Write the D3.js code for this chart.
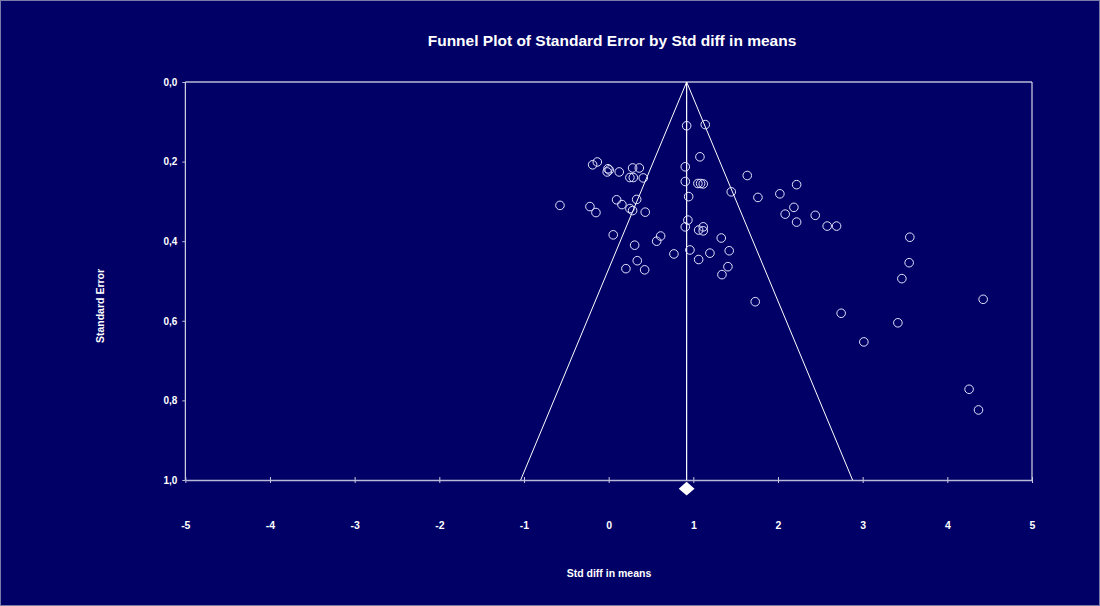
<!DOCTYPE html>
<html>
<head>
<meta charset="utf-8">
<script src="https://cdn.jsdelivr.net/npm/d3@7"></script>
<style>
  html, body { margin: 0; padding: 0; background: #000066; }
  svg { display: block; }
  text { font-family: Arial, "Liberation Sans", sans-serif; font-weight: bold; fill: #ffffff; }
</style>
</head>
<body>
<div id="chart"></div>
<script>
// study effects (Std diff in means) and their standard errors
var effects = [
  0.921, 1.141, 1.078, 0.905, -0.189, -0.134, -0.008, 0.007, -0.017, 0.125,
  0.283, 0.362, 0.251, 0.291, 0.409, 0.905, 1.054, 1.086, 1.117, 1.637,
  1.448, 0.945, 2.022, 1.763, -0.575, -0.221, -0.150, 0.094, 0.157, 0.331,
  0.251, 0.283, 0.432, 2.085, 0.936, 0.905, 1.063, 1.117, 1.117, 0.054,
  0.614, 0.567, 1.330, 0.307, 0.771, 0.960, 1.424, 1.196, 1.063, 0.338,
  0.204, 0.425, 1.409, 1.338, 1.731, 2.220, 2.188, 2.220, 2.440, 2.581,
  2.692, 3.557, 3.549, 3.463, 4.423, 2.746, 3.416, 3.014, 4.257, 4.368
];
var stdErrors = [
  0.110, 0.107, 0.188, 0.213, 0.208, 0.201, 0.218, 0.221, 0.226, 0.226,
  0.216, 0.216, 0.240, 0.240, 0.241, 0.250, 0.255, 0.255, 0.256, 0.235,
  0.276, 0.288, 0.281, 0.290, 0.310, 0.313, 0.328, 0.296, 0.308, 0.295,
  0.318, 0.323, 0.327, 0.332, 0.347, 0.364, 0.372, 0.364, 0.374, 0.384,
  0.387, 0.400, 0.392, 0.410, 0.432, 0.422, 0.424, 0.430, 0.446, 0.449,
  0.469, 0.472, 0.464, 0.484, 0.552, 0.258, 0.315, 0.352, 0.335, 0.362,
  0.362, 0.390, 0.454, 0.494, 0.546, 0.581, 0.605, 0.653, 0.772, 0.824
];
var pooledEffect = 0.921;
var xTicks = [-5, -4, -3, -2, -1, 0, 1, 2, 3, 4, 5];
var yTicks = [0, 0.2, 0.4, 0.6, 0.8, 1.0];

var width = 1100, height = 606;
var svg = d3.select("#chart").append("svg")
  .attr("width", width)
  .attr("height", height);

svg.append("rect")
  .attr("x", 0.5).attr("y", 0.5)
  .attr("width", width - 1).attr("height", height - 1)
  .attr("fill", "#000066")
  .attr("stroke", "#7a7aa8");

var x = d3.scaleLinear().domain([-5, 5]).range([185.3, 1032]);
var y = d3.scaleLinear().domain([0, 1]).range([82, 480]);

// title
svg.append("text")
  .attr("x", 612).attr("y", 46)
  .attr("text-anchor", "middle")
  .style("font-size", "15.5px")
  .text("Funnel Plot of Standard Error by Std diff in means");

// frame
svg.append("line")
  .attr("x1", x(-5)).attr("x2", x(5)).attr("y1", y(0)).attr("y2", y(0))
  .attr("stroke", "#b8b8d8").attr("stroke-width", 1.5);
svg.append("line")
  .attr("x1", x(-5)).attr("x2", x(-5)).attr("y1", y(0)).attr("y2", y(1))
  .attr("stroke", "#ffffff");
svg.append("line")
  .attr("x1", x(5)).attr("x2", x(5)).attr("y1", y(0)).attr("y2", y(1))
  .attr("stroke", "#ffffff");

// y axis
var yAxis = d3.axisLeft(y)
  .tickValues(yTicks)
  .tickSize(3)
  .tickFormat(function(d) { return d3.format(".1f")(d).replace(".", ","); });
var gy = svg.append("g")
  .attr("transform", "translate(" + x(-5) + ",0)")
  .call(yAxis);
gy.select(".domain").remove();
gy.selectAll(".tick line").attr("stroke", "#b8b8d8");
gy.selectAll(".tick text")
  .attr("x", -8)
  .attr("fill", "#ffffff")
  .style("font-size", "10px")
  .style("font-family", "Arial, 'Liberation Sans', sans-serif");

// x axis
var xAxis = d3.axisBottom(x)
  .tickValues(xTicks)
  .tickSize(0)
  .tickFormat(function(d) { return String(d); });
var gx = svg.append("g")
  .attr("transform", "translate(0," + y(1) + ")")
  .call(xAxis);
gx.select(".domain").attr("stroke", "#b8b8d8").attr("stroke-width", 1.5);
gx.selectAll(".tick line")
  .attr("y1", -3).attr("y2", 3)
  .attr("stroke", "#c8c8e0");
gx.selectAll(".tick text")
  .attr("y", 42)
  .attr("fill", "#ffffff")
  .style("font-size", "10.5px")
  .style("font-family", "Arial, 'Liberation Sans', sans-serif");

// axis titles
svg.append("text")
  .attr("x", 609).attr("y", 577)
  .attr("text-anchor", "middle")
  .style("font-size", "10.5px")
  .text("Std diff in means");
svg.append("text")
  .attr("transform", "translate(104,306) rotate(-90)")
  .attr("text-anchor", "middle")
  .style("font-size", "10.5px")
  .text("Standard Error");

// funnel
var funnel = [
  [pooledEffect - 1.96 * 1, 1],
  [pooledEffect, 0],
  [pooledEffect + 1.96 * 1, 1]
];
svg.append("path")
  .attr("d", d3.line().x(function(d) { return x(d[0]); }).y(function(d) { return y(d[1]); })(funnel))
  .attr("fill", "none")
  .attr("stroke", "#ffffff")
  .attr("stroke-width", 1);

// pooled effect line
svg.append("line")
  .attr("x1", x(pooledEffect)).attr("x2", x(pooledEffect))
  .attr("y1", y(0)).attr("y2", y(1))
  .attr("stroke", "#ffffff")
  .attr("stroke-width", 1.2);

// diamond for pooled estimate
svg.append("path")
  .attr("d", d3.symbol().type(d3.symbolDiamond).size(60)())
  .attr("transform", "translate(" + x(pooledEffect) + "," + (y(1) + 8.7) + ") scale(1.9,0.95)")
  .attr("fill", "#ffffff");

// studies
svg.append("g").selectAll("circle")
  .data(effects)
  .join("circle")
  .attr("cx", function(d) { return x(d); })
  .attr("cy", function(d, i) { return y(stdErrors[i]); })
  .attr("r", 4.3)
  .attr("fill", "none")
  .attr("stroke", "#e4e4ff")
  .attr("stroke-width", 1);
</script>
</body>
</html>
